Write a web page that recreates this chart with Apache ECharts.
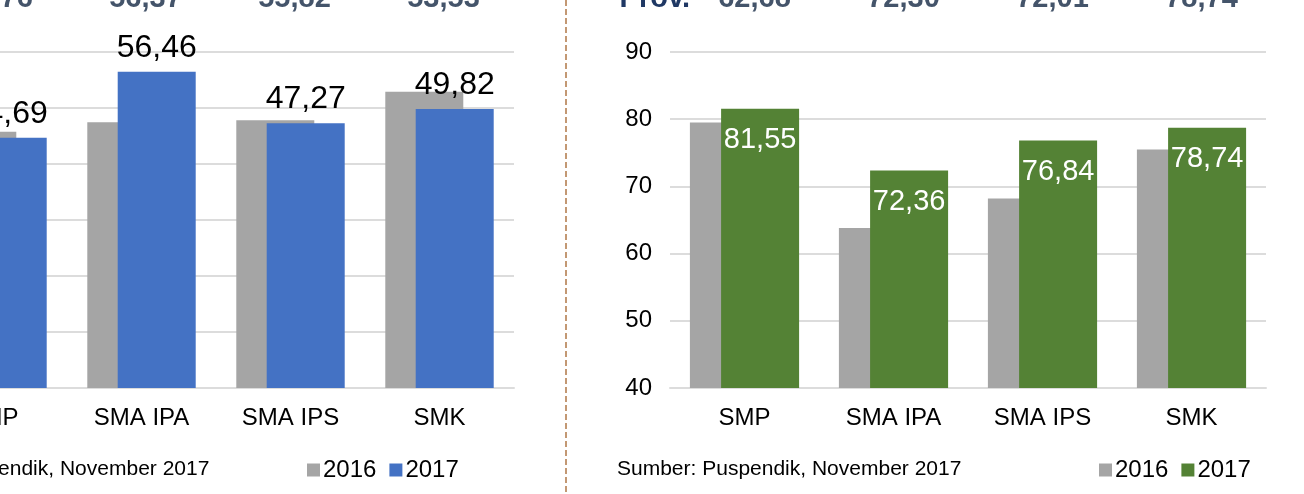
<!DOCTYPE html>
<html>
<head>
<meta charset="utf-8">
<script src="https://cdn.jsdelivr.net/npm/echarts@6/dist/echarts.min.js"></script>
<style>
  html, body { margin: 0; padding: 0; background: #fff; overflow: hidden; }
  #wrap { position: relative; width: 1304px; height: 494px; overflow: hidden; }
  /* slide ini terpotong di kiri, jadi kanvas digeser 200px ke kiri */
  #main { position: absolute; left: -200px; top: 0; width: 1504px; height: 494px; }
</style>
</head>
<body>
<div id="wrap"><div id="main"></div></div>
<script>
// kategori sekolah
var categories = ["SMP", "SMA IPA", "SMA IPS", "SMK"];
// grafik kiri (biru)
var left2016 = [45.77, 47.44, 47.8, 52.9];
var left2017 = [44.69, 56.46, 47.27, 49.82];
var leftTop = ["46,76", "56,37", "55,82", "53,53"];
// grafik kanan (hijau)
var right2016 = [79.5, 63.8, 68.2, 75.5];
var right2017 = [81.55, 72.36, 76.84, 78.74];
var rightTop = ["62,68", "72,30", "72,01", "78,74"];
var legendNames = ["2016", "2017"];
var sourceText = "Sumber: Puspendik, November 2017";

var SHIFT = 200; // geser kanvas
var FONT = "Liberation Sans, Arial, sans-serif";
var GRAY = "#A5A5A5", BLUE = "#4472C4", GREEN = "#548235";
var GRID_LINE = "#DCDCDC";

function koma(p) {
  return p.value.toFixed(2).replace(".", ",");
}

var myChart = echarts.init(document.getElementById("main"));

function xAxisOf(idx) {
  return {
    type: "category",
    gridIndex: idx,
    data: categories,
    axisTick: { show: false },
    axisLine: { lineStyle: { color: GRID_LINE, width: 2 } },
    axisLabel: { color: "#000", fontSize: 24, fontFamily: FONT, margin: 18 }
  };
}

function yAxisOf(idx, min, max) {
  return {
    type: "value",
    gridIndex: idx,
    min: min,
    max: max,
    interval: 10,
    axisLine: { show: false },
    axisTick: { show: false },
    splitLine: { lineStyle: { color: GRID_LINE, width: 2 } },
    axisLabel: { color: "#000", fontSize: 24, fontFamily: FONT, margin: 18 }
  };
}

function legendOf(x, color2017) {
  return {
    left: x, top: 453,
    itemWidth: 13, itemHeight: 13, itemGap: 13,
    icon: "rect",
    textStyle: { fontSize: 24, color: "#000", fontFamily: FONT, padding: [0, 0, 0, -2] },
    data: [
      { name: legendNames[0], itemStyle: { color: GRAY } },
      { name: legendNames[1], itemStyle: { color: color2017 } }
    ]
  };
}

var option = {
  animation: false,
  grid: [
    { left: SHIFT - 82, top: 52, width: 596, height: 336, outerBoundsMode: "none" },
    { left: SHIFT + 670, top: 52, width: 596, height: 336, outerBoundsMode: "none" }
  ],
  xAxis: [xAxisOf(0), xAxisOf(1)],
  yAxis: [yAxisOf(0, 0, 60), yAxisOf(1, 40, 90)],
  title: [
    { text: sourceText, left: SHIFT - 140, top: 454,
      textStyle: { fontSize: 21, fontWeight: "normal", color: "#000", fontFamily: FONT } },
    { text: sourceText, left: SHIFT + 612, top: 454,
      textStyle: { fontSize: 21, fontWeight: "normal", color: "#000", fontFamily: FONT } }
  ],
  legend: [legendOf(SHIFT + 302, BLUE), legendOf(SHIFT + 1094, GREEN)],
  series: [
    {
      name: legendNames[0], type: "bar", xAxisIndex: 0, yAxisIndex: 0,
      data: left2016, barWidth: 78, barGap: "-61%",
      itemStyle: { color: GRAY }
    },
    {
      name: legendNames[1], type: "bar", xAxisIndex: 0, yAxisIndex: 0,
      data: left2017, barWidth: 78, barGap: "-61%",
      itemStyle: { color: BLUE },
      label: {
        show: true, position: "top", distance: 8,
        color: "#000", fontSize: 32, fontFamily: FONT, formatter: koma
      }
    },
    {
      name: legendNames[0], type: "bar", xAxisIndex: 1, yAxisIndex: 1,
      data: right2016, barWidth: 78, barGap: "-60%",
      itemStyle: { color: GRAY }
    },
    {
      name: legendNames[1], type: "bar", xAxisIndex: 1, yAxisIndex: 1,
      data: right2017, barWidth: 78, barGap: "-60%",
      itemStyle: { color: GREEN },
      label: {
        show: true, position: "insideTop", distance: 17,
        color: "#fff", fontSize: 29, fontFamily: FONT, formatter: koma
      }
    }
  ]
};

myChart.setOption(option);

// garis putus-putus pemisah dan baris angka atas (terpotong)
var graphics = [
  {
    type: "line",
    shape: { x1: SHIFT + 566, y1: 0, x2: SHIFT + 566, y2: 494 },
    style: { stroke: "#C39873", lineWidth: 2, lineDash: [6, 3] }
  },
  {
    type: "text", x: SHIFT + 690, y: -1,
    style: { text: "Prov.", fill: "#1F3864", font: "bold 29px " + FONT,
      textAlign: "right", textVerticalAlign: "middle" }
  }
];
categories.forEach(function (c, i) {
  var xl = myChart.convertToPixel({ xAxisIndex: 0 }, c);
  var xr = myChart.convertToPixel({ xAxisIndex: 1 }, c);
  graphics.push({
    type: "text", x: xl + 4, y: -1,
    style: { text: leftTop[i], fill: "#44546A", font: "bold 29px " + FONT,
      textAlign: "center", textVerticalAlign: "middle" }
  });
  graphics.push({
    type: "text", x: xr + 10, y: -1,
    style: { text: rightTop[i], fill: "#44546A", font: "bold 29px " + FONT,
      textAlign: "center", textVerticalAlign: "middle" }
  });
});
myChart.setOption({ graphic: graphics });
</script>
</body>
</html>
